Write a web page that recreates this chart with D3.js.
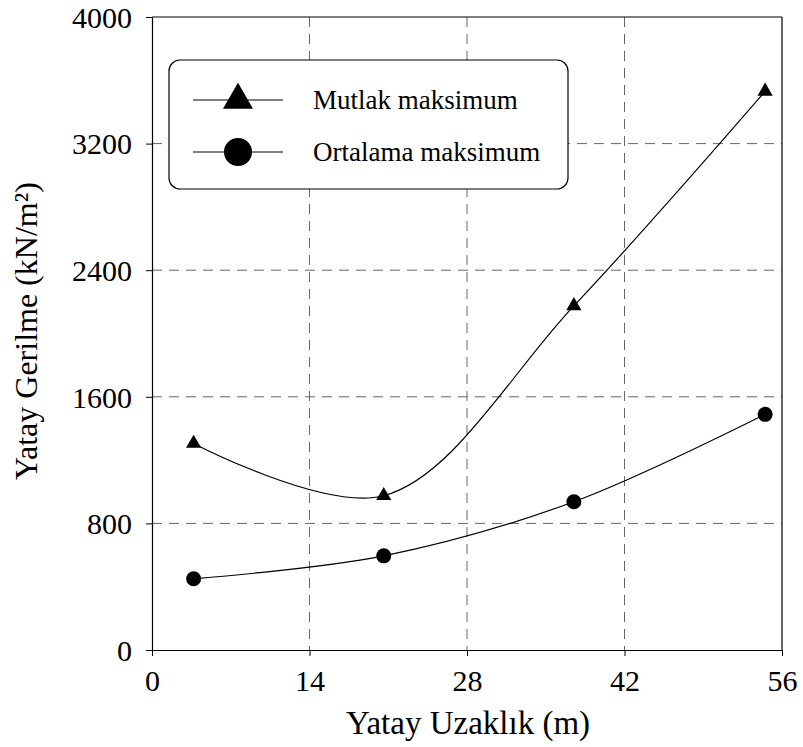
<!DOCTYPE html>
<html>
<head>
<meta charset="utf-8">
<script src="https://cdn.jsdelivr.net/npm/d3@7"></script>
<style>
  body { margin: 0; background: #fff; }
  svg { display: block; }
</style>
</head>
<body>
<div id="chart"></div>
<script>
// values
const distances = [3.7, 20.6, 37.5, 54.5]
const mutlakMaks = [1305, 975, 2175, 3530]
const ortalamaMaks = [450, 595, 937, 1489]
const xTicks = [0, 14, 28, 42, 56]
const yTicks = [0, 800, 1600, 2400, 3200, 4000]
const seriesNames = ["Mutlak maksimum", "Ortalama maksimum"]

const width = 803
const height = 747
const plotLeft = 152, plotRight = 782, plotTop = 17, plotBottom = 650
const serif = "'Liberation Serif', 'Times New Roman', serif"

const svg = d3.select("#chart")
  .append("svg")
  .attr("width", width)
  .attr("height", height)

const x = d3.scaleLinear().domain([0, 56]).range([plotLeft, plotRight])
const y = d3.scaleLinear().domain([0, 4000]).range([plotBottom, plotTop])

// grid
const grid = svg.append("g").attr("stroke", "#666").attr("stroke-width", 1).attr("stroke-dasharray", "10,7")
grid.selectAll("line.v")
  .data(xTicks.slice(1, -1))
  .enter().append("line")
    .attr("x1", d => x(d)).attr("x2", d => x(d))
    .attr("y1", plotTop).attr("y2", plotBottom)
grid.selectAll("line.h")
  .data(yTicks.slice(1, -1))
  .enter().append("line")
    .attr("x1", plotLeft).attr("x2", plotRight)
    .attr("y1", d => y(d)).attr("y2", d => y(d))

// axes
const xAxis = svg.append("g")
  .attr("transform", `translate(0,${plotBottom})`)
  .call(d3.axisBottom(x).tickValues(xTicks).tickFormat(d3.format("d")).tickSize(6).tickPadding(14).tickSizeOuter(0))
const yAxis = svg.append("g")
  .attr("transform", `translate(${plotLeft},0)`)
  .call(d3.axisLeft(y).tickValues(yTicks).tickFormat(d3.format("d")).tickSize(6).tickPadding(14).tickSizeOuter(0))

;[xAxis, yAxis].forEach(a => {
  a.select(".domain").attr("stroke", "#000").attr("stroke-width", 1.2)
  a.selectAll(".tick line").attr("stroke", "#000")
  a.selectAll(".tick text")
    .style("font-family", serif)
    .style("font-size", "30px")
    .attr("fill", "#000")
})
xAxis.selectAll(".tick text").attr("dy", "0.71em")
yAxis.selectAll(".tick text").attr("dy", "0.34em")

// frame top / right
svg.append("line")
  .attr("x1", plotLeft).attr("x2", plotRight).attr("y1", plotTop).attr("y2", plotTop)
  .attr("stroke", "#000").attr("stroke-width", 1.2)
svg.append("line")
  .attr("x1", plotRight).attr("x2", plotRight).attr("y1", plotTop).attr("y2", plotBottom)
  .attr("stroke", "#000").attr("stroke-width", 1.2)

// axis titles
svg.append("text")
  .attr("x", (plotLeft + plotRight) / 2 + 1)
  .attr("y", 734)
  .attr("text-anchor", "middle")
  .style("font-family", serif)
  .style("font-size", "33px")
  .text("Yatay Uzaklık (m)")
svg.append("text")
  .attr("transform", `translate(37,${331}) rotate(-90)`)
  .attr("text-anchor", "middle")
  .style("font-family", serif)
  .style("font-size", "32px")
  .text("Yatay Gerilme (kN/m²)")

// curves + markers
const series = [
  { name: seriesNames[0], values: mutlakMaks, symbol: d3.symbolTriangle },
  { name: seriesNames[1], values: ortalamaMaks, symbol: d3.symbolCircle }
]
const line = d3.line().curve(d3.curveCatmullRom.alpha(0.5))

series.forEach(s => {
  const pts = distances.map((d, i) => [x(d), y(s.values[i])])
  svg.append("path")
    .attr("d", line(pts))
    .attr("fill", "none")
    .attr("stroke", "#000")
    .attr("stroke-width", 1.2)
  svg.append("g").selectAll("path")
    .data(pts)
    .enter().append("path")
      .attr("transform", d => `translate(${d[0]},${d[1]})`)
      .attr("d", d3.symbol().type(s.symbol).size(s.symbol === d3.symbolCircle ? 177 : 100))
      .attr("fill", "#000")
})

// legend
const legend = svg.append("g")
legend.append("rect")
  .attr("x", 169).attr("y", 60)
  .attr("width", 399).attr("height", 129)
  .attr("rx", 11)
  .attr("fill", "#fff")
  .attr("stroke", "#000")
  .attr("stroke-width", 1.2)

series.forEach((s, i) => {
  const ly = 100 + i * 52
  legend.append("line")
    .attr("x1", 193).attr("x2", 283).attr("y1", ly).attr("y2", ly)
    .attr("stroke", "#000").attr("stroke-width", 1.2)
  legend.append("path")
    .attr("transform", `translate(238,${ly})`)
    .attr("d", d3.symbol().type(s.symbol).size(s.symbol === d3.symbolCircle ? 616 : 390))
    .attr("fill", "#000")
  legend.append("text")
    .attr("x", 313).attr("y", ly + 9)
    .style("font-family", serif)
    .style("font-size", "27px")
    .text(s.name)
})
</script>
</body>
</html>
